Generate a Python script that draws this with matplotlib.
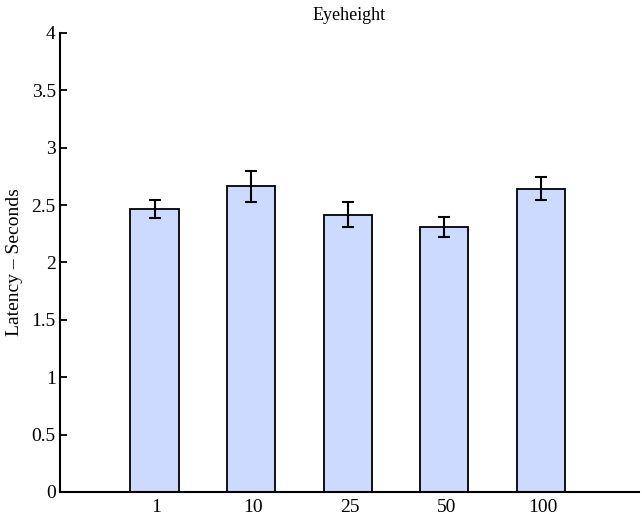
import matplotlib
matplotlib.use('Agg')
import matplotlib.pyplot as plt
import numpy as np

plt.rcParams['font.family'] = ['Liberation Serif', 'DejaVu Serif']

labels = ['1', '10', '25', '50', '100']
latency = [2.466, 2.664, 2.417, 2.309, 2.643]
err = [0.077, 0.136, 0.106, 0.090, 0.099]

fig = plt.figure(figsize=(6.42, 5.21), dpi=100)
ax = fig.add_axes([0.0935, 0.0557, 0.902, 0.881])

x = np.arange(1, len(labels) + 1)
ax.bar(x - 0.02, latency, width=0.5, color='#ccdaff', edgecolor='black', linewidth=1.3, zorder=2)
ax.errorbar(x - 0.02, latency, yerr=err, fmt='none', ecolor='black', elinewidth=1.5,
            capsize=4, capthick=1.5, zorder=3)

ax.set_xlim(0, 6)
ax.set_ylim(0, 4)
ax.set_xticks(x)
ax.set_xticklabels(labels)
ax.set_yticks(np.arange(0, 4.01, 0.5))
ax.set_yticklabels(['0', '0.5', '1', '1.5', '2', '2.5', '3', '3.5', '4'])
ax.tick_params(axis='y', direction='in', length=5, width=1.3, labelsize=14, pad=3)
ax.tick_params(axis='x', length=0, labelsize=14, pad=5)

ax.spines['top'].set_visible(False)
ax.spines['right'].set_visible(False)
ax.spines['left'].set_linewidth(1.5)
ax.spines['bottom'].set_linewidth(1.5)

ax.set_ylabel('Latency \u2013 Seconds', fontsize=14, labelpad=6)
ax.set_title('Eyeheight', fontsize=13, pad=9)

fig.savefig('out.png', dpi=100)
